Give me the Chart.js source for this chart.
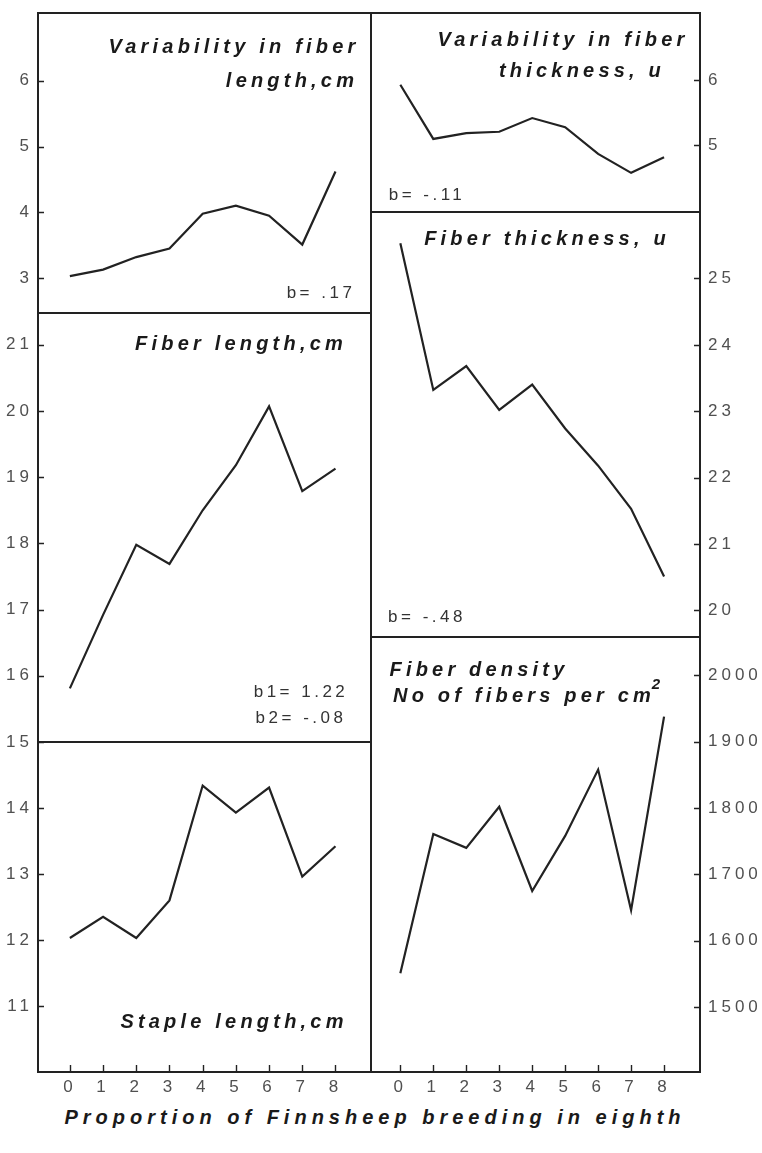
<!DOCTYPE html>
<html>
<head>
<meta charset="utf-8">
<title>Finnsheep breeding and wool traits</title>
<script src="https://cdn.jsdelivr.net/npm/chart.js@4.4.1/dist/chart.umd.min.js"></script>
<style>
  html, body { margin: 0; padding: 0; background: #fff; overflow: hidden; }
  #page { position: relative; width: 762px; height: 1153px; }
  #page canvas { position: absolute; }
  #xtitle {
    position: absolute; left: 0; width: 750px; top: 1105px;
    text-align: center;
    font: italic bold 20px "Liberation Sans", Arial, sans-serif;
    letter-spacing: 5px; line-height: 24px; color: #1a1a1a;
  }
</style>
</head>
<body>
<div id="page">
  <canvas id="flVar"></canvas>
  <canvas id="fl"></canvas>
  <canvas id="staple"></canvas>
  <canvas id="thVar"></canvas>
  <canvas id="th"></canvas>
  <canvas id="dens"></canvas>
  <div id="xtitle">Proportion of Finnsheep breeding in eighth</div>
</div>
<script>
// x categories: eighths of Finnsheep breeding
const generations = [0, 1, 2, 3, 4, 5, 6, 7, 8];

// series
const fiberLengthVar = [3.03, 3.13, 3.32, 3.45, 3.98, 4.10, 3.95, 3.51, 4.62];
const fiberLength = [15.81, 16.92, 17.98, 17.69, 18.50, 19.18, 20.07, 18.79, 19.13];
const stapleLength = [12.03, 12.35, 12.03, 12.60, 14.34, 13.93, 14.31, 12.96, 13.42];
const thicknessVar = [5.93, 5.10, 5.19, 5.21, 5.42, 5.28, 4.87, 4.58, 4.82];
const thickness = [25.53, 23.32, 23.68, 23.02, 23.40, 22.74, 22.18, 21.53, 20.51];
const density = [1551, 1761, 1740, 1802, 1675, 1758, 1858, 1646, 1938];

// y tick labels per panel
const ticksFiberLengthVar = [3, 4, 5, 6];
const ticksFiberLength = [15, 16, 17, 18, 19, 20, 21];
const ticksStaple = [11, 12, 13, 14];
const ticksThicknessVar = [5, 6];
const ticksThickness = [20, 21, 22, 23, 24, 25];
const ticksDensity = [1500, 1600, 1700, 1800, 1900, 2000];

const INK = '#222';
const TICK_COLOR = '#505050';
const TITLE_FONT = 'italic bold 20px "Liberation Sans", Arial, sans-serif';
const TITLE_SPACING = 4.2;
const NOTE_FONT = '17px "Liberation Sans", Arial, sans-serif';

Chart.defaults.font.family = '"Liberation Sans", Arial, sans-serif';

const PAD = 24;       // room above/below each panel inside its canvas
const SIDE = 16;      // room on the side without an axis
const LEFT_AXIS = 38; // width of left tick label gutter
const RIGHT_AXIS = 62;
const X_AXIS = 30;

function panelDecor(spec) {
  return {
    id: 'panelDecor',
    beforeDraw(chart) {
      chart.ctx.letterSpacing = '4px';
    },
    afterDraw(chart) {
      const ctx = chart.ctx;
      const a = chart.chartArea;
      ctx.save();
      ctx.letterSpacing = '0px';
      ctx.strokeStyle = INK;
      ctx.lineWidth = 2;
      ctx.strokeRect(a.left, a.top, a.right - a.left, a.bottom - a.top);

      // short inward tick marks
      ctx.lineWidth = 1.4;
      ctx.beginPath();
      const ys = chart.scales.y;
      ys.ticks.forEach(t => {
        const py = Math.round(ys.getPixelForValue(t.value)) + 0.5;
        if (spec.side === 'left') { ctx.moveTo(a.left, py); ctx.lineTo(a.left + 6, py); }
        else { ctx.moveTo(a.right, py); ctx.lineTo(a.right - 6, py); }
      });
      if (spec.showX) {
        const xs = chart.scales.x;
        xs.ticks.forEach(t => {
          const px = Math.round(xs.getPixelForValue(t.value)) + 0.5;
          ctx.moveTo(px, a.bottom); ctx.lineTo(px, a.bottom - 7);
        });
      }
      ctx.stroke();

      // panel titles and regression notes (page coordinates)
      spec.notes.forEach(n => {
        ctx.font = n.font;
        ctx.fillStyle = n.color || '#1a1a1a';
        ctx.letterSpacing = n.spacing + 'px';
        ctx.textAlign = n.align || 'center';
        ctx.textBaseline = 'alphabetic';
        const x = n.x - spec.canvasLeft;
        const y = n.y - spec.canvasTop;
        ctx.fillText(n.text, x, y);
        if (n.sup) {
          const w = ctx.measureText(n.text).width;
          ctx.font = 'italic bold 15px "Liberation Sans", Arial, sans-serif';
          ctx.letterSpacing = '0px';
          ctx.textAlign = 'left';
          ctx.fillText(n.sup, x + w - n.spacing + 1, y - 13);
        }
      });
      ctx.restore();
    }
  };
}

function makePanel(spec) {
  const canvas = document.getElementById(spec.id);
  const isLeft = spec.side === 'left';
  const left = isLeft ? spec.x0 - LEFT_AXIS : spec.x0 - SIDE;
  const width = (isLeft ? LEFT_AXIS + SIDE : SIDE + RIGHT_AXIS) + (spec.x1 - spec.x0);
  const top = spec.y0 - PAD;
  const height = PAD + (spec.y1 - spec.y0) + (spec.showX ? X_AXIS : PAD);
  canvas.width = width;
  canvas.height = height;
  canvas.style.left = left + 'px';
  canvas.style.top = top + 'px';
  spec.canvasLeft = left;
  spec.canvasTop = top;

  return new Chart(canvas, {
    type: 'line',
    data: {
      datasets: [{
        data: generations.map((g, i) => ({ x: g, y: spec.values[i] })),
        borderColor: INK,
        borderWidth: 2.2,
        pointRadius: 0,
        tension: 0,
        fill: false,
      }],
    },
    options: {
      responsive: false,
      animation: false,
      devicePixelRatio: 1,
      layout: {
        padding: {
          left: isLeft ? 0 : SIDE,
          right: isLeft ? SIDE : 0,
          top: PAD,
          bottom: spec.showX ? 0 : PAD,
        },
      },
      plugins: { legend: { display: false }, tooltip: { enabled: false } },
      scales: {
        x: {
          type: 'linear',
          display: !!spec.showX,
          min: spec.xMin,
          max: spec.xMax,
          afterBuildTicks: s => { s.ticks = generations.map(v => ({ value: v })); },
          afterFit: s => { if (spec.showX) s.height = X_AXIS; },
          grid: { display: false, drawTicks: false },
          border: { display: false },
          ticks: {
            padding: 5,
            color: TICK_COLOR,
            font: { size: 17 },
            callback: v => String(v),
          },
        },
        y: {
          type: 'linear',
          position: spec.side,
          min: spec.yMin,
          max: spec.yMax,
          afterBuildTicks: s => { s.ticks = spec.yTicks.map(v => ({ value: v })); },
          afterFit: s => { s.width = isLeft ? LEFT_AXIS : RIGHT_AXIS; },
          grid: { display: false, drawTicks: false },
          border: { display: false },
          ticks: {
            padding: isLeft ? 5 : 8,
            color: TICK_COLOR,
            font: { size: 17 },
            callback: v => String(v),
          },
        },
      },
    },
    plugins: [panelDecor(spec)],
  });
}

// left column
makePanel({
  id: 'flVar', side: 'left', x0: 38, x1: 371, y0: 13, y1: 313,
  xMin: -0.96, xMax: 9.07, yMin: 2.47, yMax: 7.03,
  values: fiberLengthVar, yTicks: ticksFiberLengthVar,
  notes: [
    { text: 'Variability in fiber', x: 234, y: 53, font: TITLE_FONT, spacing: TITLE_SPACING },
    { text: 'length,cm', x: 292, y: 87, font: TITLE_FONT, spacing: TITLE_SPACING },
    { text: 'b= .17', x: 321, y: 298, font: NOTE_FONT, spacing: 3.5, color: '#333' },
  ],
});
makePanel({
  id: 'fl', side: 'left', x0: 38, x1: 371, y0: 313, y1: 742,
  xMin: -0.96, xMax: 9.07, yMin: 15, yMax: 21.48,
  values: fiberLength, yTicks: ticksFiberLength,
  notes: [
    { text: 'Fiber length,cm', x: 241, y: 350, font: TITLE_FONT, spacing: TITLE_SPACING },
    { text: 'b1= 1.22', x: 301, y: 697, font: NOTE_FONT, spacing: 3.5, color: '#333' },
    { text: 'b2= -.08', x: 301, y: 723, font: NOTE_FONT, spacing: 3.5, color: '#333' },
  ],
});
makePanel({
  id: 'staple', side: 'left', x0: 38, x1: 371, y0: 742, y1: 1072, showX: true,
  xMin: -0.96, xMax: 9.07, yMin: 10, yMax: 15,
  values: stapleLength, yTicks: ticksStaple,
  notes: [
    { text: 'Staple length,cm', x: 234, y: 1028, font: TITLE_FONT, spacing: TITLE_SPACING },
  ],
});

// right column
makePanel({
  id: 'thVar', side: 'right', x0: 371, x1: 700, y0: 13, y1: 212,
  xMin: -0.89, xMax: 9.09, yMin: 3.98, yMax: 7.03,
  values: thicknessVar, yTicks: ticksThicknessVar,
  notes: [
    { text: 'Variability in fiber', x: 563, y: 46, font: TITLE_FONT, spacing: TITLE_SPACING },
    { text: 'thickness, u', x: 582, y: 77, font: TITLE_FONT, spacing: TITLE_SPACING },
    { text: 'b= -.11', x: 427, y: 200, font: NOTE_FONT, spacing: 3.5, color: '#333' },
  ],
});
makePanel({
  id: 'th', side: 'right', x0: 371, x1: 700, y0: 212, y1: 637,
  xMin: -0.89, xMax: 9.09, yMin: 19.6, yMax: 26,
  values: thickness, yTicks: ticksThickness,
  notes: [
    { text: 'Fiber thickness, u', x: 547, y: 245, font: TITLE_FONT, spacing: TITLE_SPACING },
    { text: 'b= -.48', x: 427, y: 622, font: NOTE_FONT, spacing: 3.5, color: '#333' },
  ],
});
makePanel({
  id: 'dens', side: 'right', x0: 371, x1: 700, y0: 637, y1: 1072, showX: true,
  xMin: -0.89, xMax: 9.09, yMin: 1402, yMax: 2058,
  values: density, yTicks: ticksDensity,
  notes: [
    { text: 'Fiber density', x: 479, y: 676, font: TITLE_FONT, spacing: TITLE_SPACING },
    { text: 'No of fibers per cm', x: 393, y: 702, font: TITLE_FONT, spacing: TITLE_SPACING, align: 'left', sup: '2' },
  ],
});
</script>
</body>
</html>
